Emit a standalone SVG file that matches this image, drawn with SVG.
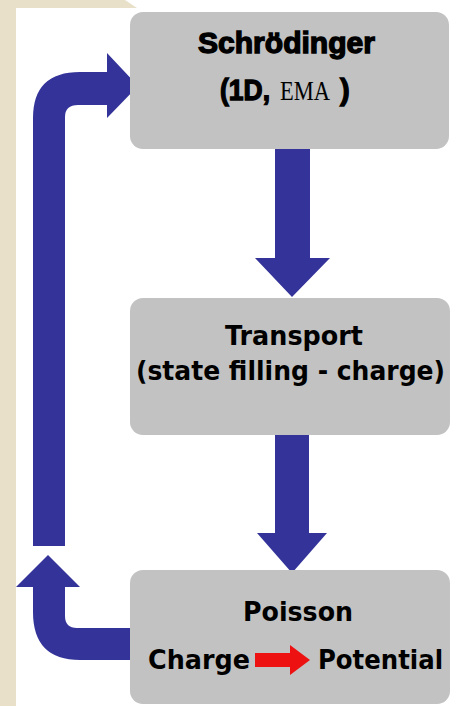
<svg xmlns="http://www.w3.org/2000/svg" width="452" height="706" viewBox="0 0 452 706">
<style>
.box{fill:#c2c2c2}
.flow{fill:#333399}
.t{font-family:"DejaVu Sans","Liberation Sans",sans-serif;font-weight:bold;font-size:27px;fill:#000}
.tb{font-family:"Liberation Sans","DejaVu Sans",sans-serif;font-weight:900;font-size:29px;fill:#000;stroke:#000;stroke-width:1.3}
.sr{font-family:"Liberation Serif","Times New Roman",serif;font-size:27px;fill:#000;stroke:none;font-weight:normal}
</style>
<rect x="0" y="0" width="452" height="706" fill="#ffffff"/>
<path d="M0,0 L125,0 L137,8 L16,8 L16,706 L0,706 Z" fill="#e8e0c8"/>
<g id="connectors">
<path class="flow" d="M275,149 L310,149 L310,258 L330,258 L292,297 L255,258 L275,258 Z"/>
<path class="flow" d="M275,435 L309,435 L309,533 L327,533 L292,573 L257,533 L275,533 Z"/>
<path class="flow" d="M130,628 L77,628 Q65,628 65,616 L65,587 L80,587 L48,555 L16,587 L33,587 L33,612 Q33,660 80,660 L130,660 Z"/>
<path class="flow" d="M33,546 L65,546 L65,117 Q65,105 78,105 L107,105 L107,118 L138,86 L107,53 L107,72 L80,72 Q33,72 33,118 Z"/>
</g>
<g id="schrodinger">
<rect class="box" x="130" y="12" width="319" height="137" rx="13"/>
<text class="tb" x="198" y="53" textLength="177" lengthAdjust="spacingAndGlyphs">Schrödinger</text>
<text class="tb" y="100"><tspan x="220" textLength="50" lengthAdjust="spacingAndGlyphs">(1D,</tspan><tspan class="sr" x="280" textLength="50" lengthAdjust="spacingAndGlyphs">EMA</tspan><tspan x="340">)</tspan></text>
</g>
<g id="transport">
<rect class="box" x="130" y="298" width="320" height="137" rx="13"/>
<text class="t" x="225" y="345" textLength="138" lengthAdjust="spacingAndGlyphs">Transport</text>
<text class="t" x="136" y="380" textLength="309" lengthAdjust="spacingAndGlyphs">(state filling - charge)</text>
</g>
<g id="poisson">
<rect class="box" x="130" y="570" width="320" height="134" rx="13"/>
<text class="t" x="243" y="621" textLength="110" lengthAdjust="spacingAndGlyphs">Poisson</text>
<text class="t" x="148" y="669" textLength="102" lengthAdjust="spacingAndGlyphs">Charge</text>
<path d="M255,653 L290,653 L290,645 L310,660 L290,675 L290,667 L255,667 Z" fill="#ee1111"/>
<text class="t" x="318" y="669" textLength="125" lengthAdjust="spacingAndGlyphs">Potential</text>
</g>
</svg>
